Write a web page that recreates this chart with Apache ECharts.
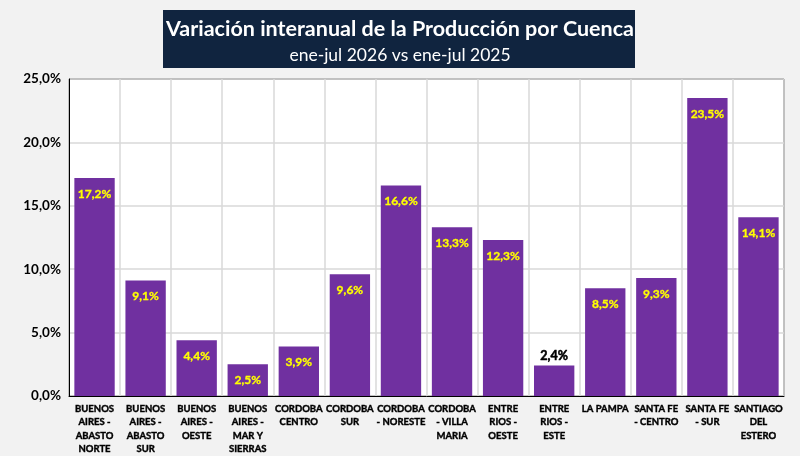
<!DOCTYPE html>
<html>
<head>
<meta charset="utf-8">
<script src="https://cdn.jsdelivr.net/npm/echarts@6/dist/echarts.min.js"></script>
<style>
	html, body { margin: 0; padding: 0; background: #f2f2f2; }
	#main { width: 800px; height: 456px; }
</style>
</head>
<body>
<div id="main"></div>
<script>
// categorías (cuencas)
var cuencas = [
	'BUENOS\nAIRES -\nABASTO\nNORTE',
	'BUENOS\nAIRES -\nABASTO\nSUR',
	'BUENOS\nAIRES -\nOESTE',
	'BUENOS\nAIRES -\nMAR Y\nSIERRAS',
	'CORDOBA\nCENTRO',
	'CORDOBA\nSUR',
	'CORDOBA\n- NORESTE',
	'CORDOBA\n- VILLA\nMARIA',
	'ENTRE\nRIOS -\nOESTE',
	'ENTRE\nRIOS -\nESTE',
	'LA PAMPA',
	'SANTA FE\n- CENTRO',
	'SANTA FE\n- SUR',
	'SANTIAGO\nDEL\nESTERO'
];
// variación interanual (%)
var variacion = [17.2, 9.1, 4.4, 2.5, 3.9, 9.6, 16.6, 13.3, 12.3, 2.4, 8.5, 9.3, 23.5, 14.1];
var titulo = 'Variación interanual de la Producción por Cuenca';
var subtitulo = 'ene-jul 2026 vs ene-jul 2025';

function fmt(v) {
	return v.toFixed(1).replace('.', ',') + '%';
}

var myChart = echarts.init(document.getElementById('main'));

var datos = variacion.map(function (v, i) {
	// la barra más baja lleva la etiqueta por encima
	if (i == 9) {
		return {
			value: v,
			label: {
				position: 'top', distance: 3, color: '#000', fontSize: 12.5, fontWeight: 'bold',
				textBorderColor: '#000', textBorderWidth: 0.5
			}
		};
	}
	return v;
});

myChart.setOption({
	backgroundColor: '#f2f2f2',
	textStyle: { fontFamily: 'Lato' },
	graphic: [{
		type: 'rect',
		left: 163, top: 10,
		shape: { width: 472, height: 58 },
		style: { fill: '#10243f' },
		z: 0
	}],
	title: {
		text: titulo,
		subtext: subtitulo,
		left: 'center',
		top: 13,
		itemGap: 6,
		textStyle: { color: '#fff', fontSize: 21.5, fontWeight: 'bold', fontFamily: 'Lato' },
		subtextStyle: { color: '#fff', fontSize: 17.5, fontFamily: 'Lato' },
		z: 5
	},
	grid: {
		left: 69, right: 16, top: 79, bottom: 60,
		show: true,
		backgroundColor: '#fff',
		borderColor: '#000',
		borderWidth: 1
	},
	xAxis: {
		type: 'category',
		data: cuencas,
		axisTick: { show: false },
		axisLine: { lineStyle: { color: '#000' } },
		splitLine: { show: true, lineStyle: { color: '#d9d9d9', width: 1.5 } },
		axisLabel: {
			interval: 0,
			color: '#000',
			fontSize: 9.5,
			fontWeight: 'bold',
			textBorderColor: '#000',
			textBorderWidth: 0.4,
			lineHeight: 13.5,
			margin: 6
		}
	},
	yAxis: {
		type: 'value',
		min: 0, max: 25, interval: 5,
		axisLine: { show: true, lineStyle: { color: '#000' } },
		splitLine: { show: true, lineStyle: { color: '#d9d9d9', width: 1.5 } },
		axisLabel: {
			color: '#000',
			fontSize: 13.5,
			fontWeight: 'bold',
			formatter: function (v) { return fmt(v); }
		}
	},
	series: [{
		type: 'bar',
		data: datos,
		barCategoryGap: '21%',
		itemStyle: { color: '#7030a0' },
		label: {
			show: true,
			position: 'insideTop',
			distance: 10,
			color: '#ffff00',
			fontSize: 12,
			fontWeight: 'bold',
			textBorderColor: '#ffff00',
			textBorderWidth: 0.3,
			formatter: function (p) { return fmt(p.value); }
		}
	}]
});
</script>
</body>
</html>
